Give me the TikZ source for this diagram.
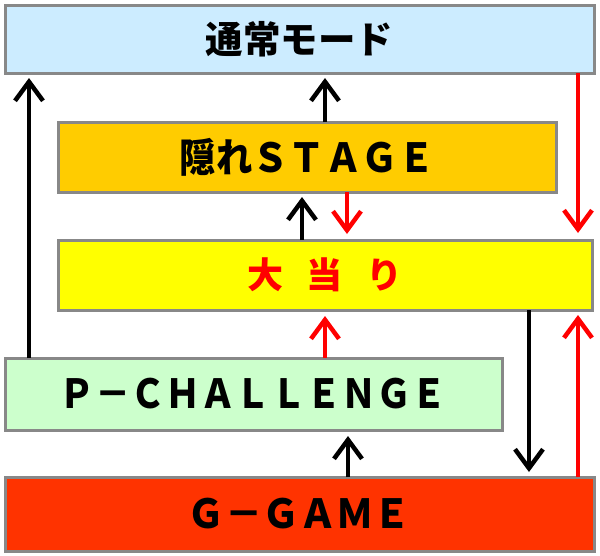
\documentclass[tikz,border=0pt]{standalone}
\usepackage{graphicx}
\usepackage{fontspec}
\newfontfamily\jp{Noto Sans CJK JP}
\usetikzlibrary{arrows.meta}
\definecolor{bordergray}{HTML}{888888}
\definecolor{cblue}{HTML}{CCECFF}
\definecolor{corange}{HTML}{FFCC00}
\definecolor{cyellow}{HTML}{FFFF00}
\definecolor{cgreen}{HTML}{CCFFCC}
\definecolor{cred}{HTML}{FF3300}
\definecolor{arrred}{HTML}{FF0000}
\newcommand{\tallfont}{\jp\bfseries\fontsize{40}{46}\selectfont}
\tikzset{
  box/.style={draw=bordergray, line width=3pt, rectangle, inner sep=0pt, outer sep=0pt,
    font=\jp\bfseries\fontsize{36}{42}\selectfont},
  barr/.style={line width=4.5pt, draw=black, -{Straight Barb[length=19pt,width=28pt]}},
  rarr/.style={line width=4.5pt, draw=arrred, -{Straight Barb[length=19pt,width=28pt]}},
}
\begin{document}
\begin{tikzpicture}[x=1pt,y=-1pt]
\useasboundingbox (0,0) rectangle (600,555);
\fill[white] (0,0) rectangle (600,555);
\node[box, fill=cblue, minimum width=589pt, minimum height=68pt,
  font=\jp\bfseries\fontsize{37.5}{42}\selectfont] (A) at (299.5,39) {通常モード};
\node[box, fill=corange, minimum width=498pt, minimum height=70pt] (B) at (307,157)
  {\tallfont\scalebox{0.91}[1]{隠れＳＴＡＧＥ}\hspace{8pt}};
\node[box, fill=cyellow, minimum width=534pt, minimum height=70pt, text=arrred] (C) at (325,275)
  {大\hspace{0.64em}当\hspace{0.64em}り};
\node[box, fill=cgreen, minimum width=497pt, minimum height=72pt] (D) at (253.5,394)
  {\tallfont\scalebox{0.88}[1]{Ｐ－ＣＨＡＬＬＥＮＧＥ}};
\node[box, fill=cred, minimum width=589pt, minimum height=74pt] (E) at (299.5,514)
  {\tallfont\scalebox{0.93}[1]{Ｇ－ＧＡＭＥ}};
% arrows
\draw[barr] ([xshift=-224.5pt]D.north) -- ([xshift=-270.5pt,yshift=-5pt]A.south);
\draw[barr] ([xshift=18pt]B.north) -- ([xshift=25.5pt,yshift=-5pt]A.south);
\draw[rarr] ([xshift=278.5pt]A.south) -- ([xshift=253pt,yshift=7pt]C.north);
\draw[barr] ([xshift=-23pt]C.north) -- ([xshift=-5pt,yshift=-5pt]B.south);
\draw[rarr] ([xshift=40pt]B.south) -- ([xshift=22pt,yshift=6pt]C.north);
\draw[rarr] ([xshift=71.5pt]D.north) -- ([xshift=0pt,yshift=-6pt]C.south);
\draw[barr] ([xshift=204pt]C.south) -- ([xshift=229.5pt,yshift=5pt]E.north);
\draw[rarr] ([xshift=278.5pt]E.north) -- ([xshift=253pt,yshift=-5pt]C.south);
\draw[barr] ([xshift=48.5pt]E.north) -- ([xshift=94.5pt,yshift=-6pt]D.south);
\end{tikzpicture}
\end{document}
